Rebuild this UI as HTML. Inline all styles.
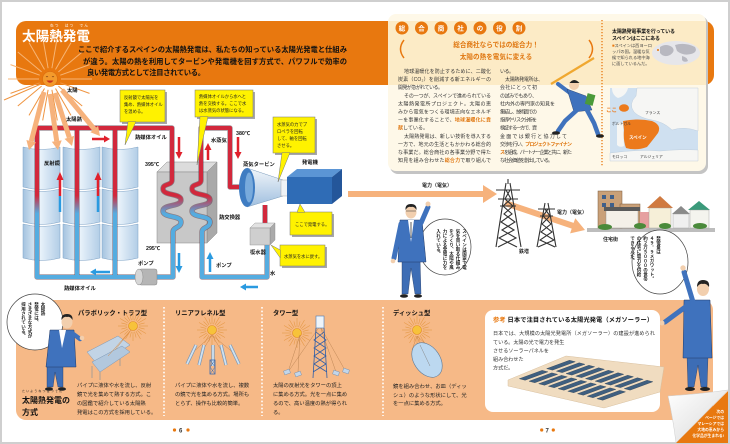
<!DOCTYPE html>
<html lang="ja"><head><meta charset="utf-8">
<style>
html,body{margin:0;padding:0;background:#fff;}
body{width:730px;height:444px;overflow:hidden;position:relative;}
svg{position:absolute;left:0;top:0;}
svg text{font-family:"Liberation Sans","Noto Sans CJK JP",sans-serif;}
.v{position:absolute;writing-mode:vertical-rl;font-family:"Liberation Sans","Noto Sans CJK JP",sans-serif;font-weight:bold;color:#222;white-space:nowrap;font-size:4.5px;line-height:6.5px;}
</style></head><body>
<svg width="730" height="444" viewBox="0 0 730 444" xmlns="http://www.w3.org/2000/svg">
<defs>
<linearGradient id="pg" gradientUnits="userSpaceOnUse" x1="0" y1="128" x2="0" y2="278">
<stop offset="0.45" stop-color="#d2283c"/><stop offset="0.57" stop-color="#55ace0"/>
</linearGradient>
<linearGradient id="mir" x1="0" y1="0" x2="1" y2="0">
<stop offset="0" stop-color="#a4c3df"/><stop offset="0.45" stop-color="#eaf3fb"/><stop offset="1" stop-color="#b2cde6"/>
</linearGradient>
<linearGradient id="cone" x1="0" y1="0" x2="0" y2="1">
<stop offset="0" stop-color="#f2f6fa"/><stop offset="1" stop-color="#9fbfdf"/>
</linearGradient>
<linearGradient id="curl" x1="0" y1="0" x2="1" y2="1">
<stop offset="0" stop-color="#ffffff"/><stop offset="1" stop-color="#d8d8d8"/>
</linearGradient>
<g id="sun">
<g stroke="#e59a48" stroke-width="0.6">
<line x1="6" y1="0" x2="15" y2="0"/><line x1="5.2" y1="3" x2="13" y2="7.5"/><line x1="3" y1="5.2" x2="7.5" y2="13"/><line x1="0" y1="6" x2="0" y2="15"/><line x1="-3" y1="5.2" x2="-7.5" y2="13"/><line x1="-5.2" y1="3" x2="-13" y2="7.5"/><line x1="-6" y1="0" x2="-15" y2="0"/><line x1="-5.2" y1="-3" x2="-13" y2="-7.5"/><line x1="-3" y1="-5.2" x2="-7.5" y2="-13"/><line x1="0" y1="-6" x2="0" y2="-15"/><line x1="3" y1="-5.2" x2="7.5" y2="-13"/><line x1="5.2" y1="-3" x2="13" y2="-7.5"/>
<line x1="5.8" y1="1.6" x2="11.6" y2="3.1"/><line x1="4.2" y1="4.2" x2="8.5" y2="8.5"/><line x1="1.6" y1="5.8" x2="3.1" y2="11.6"/><line x1="-1.6" y1="5.8" x2="-3.1" y2="11.6"/><line x1="-4.2" y1="4.2" x2="-8.5" y2="8.5"/><line x1="-5.8" y1="1.6" x2="-11.6" y2="3.1"/><line x1="-5.8" y1="-1.6" x2="-11.6" y2="-3.1"/><line x1="-4.2" y1="-4.2" x2="-8.5" y2="-8.5"/><line x1="-1.6" y1="-5.8" x2="-3.1" y2="-11.6"/><line x1="1.6" y1="-5.8" x2="3.1" y2="-11.6"/><line x1="4.2" y1="-4.2" x2="8.5" y2="-8.5"/><line x1="5.8" y1="-1.6" x2="11.6" y2="-3.1"/>
</g>
<circle r="4.5" fill="#f7c23a" stroke="#e08a20" stroke-width="0.6"/>
</g>
</defs>

<rect x="1" y="1" width="728" height="442" fill="#fff" stroke="#cfcfcf" stroke-width="2"/>

<!-- orange banners -->
<rect x="16" y="21" width="698" height="64" rx="10" fill="#e8780f"/>
<rect x="16" y="300" width="697" height="120" rx="10" fill="#f6b987"/>

<!-- sun rays -->
<g stroke="#f7b575" stroke-width="1">
<line x1="39" y1="79" x2="8" y2="79"/><line x1="39.7" y1="75.2" x2="10.5" y2="64.6"/><line x1="41.6" y1="71.9" x2="17.8" y2="52"/><line x1="44.5" y1="69.5" x2="29" y2="42.6"/><line x1="48.1" y1="68.2" x2="42.7" y2="37.6"/><line x1="51.9" y1="68.2" x2="57.3" y2="37.6"/><line x1="55.5" y1="69.5" x2="71" y2="42.6"/><line x1="58.4" y1="71.9" x2="82.2" y2="52"/><line x1="60.3" y1="75.2" x2="89.5" y2="64.6"/><line x1="61" y1="79" x2="92" y2="79"/>
</g>
<g stroke="#ef9440" stroke-width="1">
<line x1="60.3" y1="82.8" x2="89.5" y2="93.4"/><line x1="58.4" y1="86.1" x2="82.2" y2="106"/><line x1="55.5" y1="88.5" x2="71" y2="115.4"/><line x1="51.9" y1="89.8" x2="57.3" y2="120.4"/><line x1="48.1" y1="89.8" x2="42.7" y2="120.4"/><line x1="44.5" y1="88.5" x2="29" y2="115.4"/><line x1="41.6" y1="86.1" x2="17.8" y2="106"/><line x1="39.7" y1="82.8" x2="10.5" y2="93.4"/><line x1="41" y1="84" x2="4" y2="100"/>
</g>

<!-- title -->
<text x="22" y="41" font-size="13.6" font-weight="bold" fill="#fff" textLength="68">太陽熱発電</text>
<text x="50" y="26.5" font-size="3.6" fill="#fff" textLength="38">ねつ　はつ　でん</text>
<g font-size="7.3" font-weight="bold" fill="#111">
<text x="78" y="52" textLength="269">ここで紹介するスペインの太陽熱発電は、私たちの知っている太陽光発電と仕組み</text>
<text x="83" y="64" textLength="264">が違う。太陽の熱を利用してタービンや発電機を回す方式で、パワフルで効率の</text>
<text x="87" y="75" textLength="118">良い発電方式として注目されている。</text>
</g>

<!-- mirrors -->
<g fill="url(#mir)" stroke="#7fa3c6" stroke-width="0.5">
<path d="M23,147 Q41.5,152 60,147 L60,187 Q41.5,192 23,187 Z"/>
<path d="M23,189 Q41.5,194 60,189 L60,222 Q41.5,227 23,222 Z"/>
<path d="M23,224 Q41.5,229 60,224 L60,258 Q41.5,263 23,258 Z"/>
<path d="M63,147 Q81.5,152 100,147 L100,187 Q81.5,192 63,187 Z"/>
<path d="M63,189 Q81.5,194 100,189 L100,222 Q81.5,227 63,222 Z"/>
<path d="M63,224 Q81.5,229 100,224 L100,258 Q81.5,263 63,258 Z"/>
<path d="M102,147 Q120,152 138,147 L138,187 Q120,192 102,187 Z"/>
<path d="M102,189 Q120,194 138,189 L138,222 Q120,227 102,222 Z"/>
<path d="M102,224 Q120,229 138,224 L138,258 Q120,263 102,258 Z"/>
</g>

<!-- heat exchanger box -->
<polygon points="157,172 167,162 217,162 207,172" fill="#dcdcdc" stroke="#888" stroke-width="0.5"/>
<polygon points="207,172 217,162 217,233 207,243" fill="#a9a9a9" stroke="#888" stroke-width="0.5"/>
<rect x="157" y="172" width="50" height="71" fill="#c8c8c8" stroke="#888" stroke-width="0.5"/>

<!-- pipes -->
<g fill="none" stroke="#5a3a48" stroke-opacity="0.55" stroke-width="5.4" stroke-linejoin="round">
<path d="M135,277 H37 V128 H172 V180 C172,186 163,183 163,189 C163,196 181,193 181,200 C181,207 163,204 163,211 C163,218 181,215 181,222 C181,228 173,227 173,232 V277 H157"/>
<path d="M77,128 V277"/>
<path d="M115,128 V277"/>
<path d="M240,187 H230 V128 H201 V180 C201,186 192,183 192,189 C192,196 210,193 210,200 C210,207 192,204 192,211 C192,218 210,215 210,222 C210,228 202,227 202,232 V277 H267 V245"/>
<path d="M265,205 V224"/>
</g>
<g fill="none" stroke="url(#pg)" stroke-width="4" stroke-linejoin="round">
<path d="M135,277 H37 V128 H172 V180 C172,186 163,183 163,189 C163,196 181,193 181,200 C181,207 163,204 163,211 C163,218 181,215 181,222 C181,228 173,227 173,232 V277 H157"/>
<path d="M77,128 V277"/>
<path d="M115,128 V277"/>
<path d="M240,187 H230 V128 H201 V180 C201,186 192,183 192,189 C192,196 210,193 210,200 C210,207 192,204 192,211 C192,218 210,215 210,222 C210,228 202,227 202,232 V277 H267 V245"/>
</g>
<path d="M265,205 V224" stroke="#d2283c" stroke-width="4"/>

<!-- pump -->
<rect x="139" y="269" width="18" height="16" rx="2" fill="#b5b5b5" stroke="#888" stroke-width="0.5"/>
<ellipse cx="139" cy="277" rx="4" ry="8" fill="#d6d6d6" stroke="#888" stroke-width="0.5"/>

<!-- turbine -->
<path d="M247,168 L283,180 L283,196 L247,207 Z" fill="url(#cone)" stroke="#7a9abb" stroke-width="0.5"/>
<rect x="281" y="180" width="8" height="16" fill="#eef2f6" stroke="#999" stroke-width="0.4"/>
<ellipse cx="247" cy="187.5" rx="8" ry="19.5" fill="#3e7cc2"/>
<ellipse cx="249" cy="187.5" rx="4" ry="15" fill="#78aadc"/>

<!-- generator -->
<polygon points="287,177 297,169 342,169 332,177" fill="#5b95d5"/>
<polygon points="332,177 342,169 342,196 332,204" fill="#24569a"/>
<rect x="287" y="177" width="45" height="27" fill="#2f6cb6"/>

<!-- condenser -->
<polygon points="250,228 255,223 275,223 270,228" fill="#e2e2e2" stroke="#888" stroke-width="0.4"/>
<polygon points="270,228 275,223 275,240 270,245" fill="#aaa" stroke="#888" stroke-width="0.4"/>
<rect x="250" y="228" width="20" height="17" fill="#cfcfcf" stroke="#888" stroke-width="0.4"/>

<!-- sunlight beams -->
<g fill="#f6b27c" stroke="none">
<line x1="44" y1="92" x2="31.25" y2="141.3" stroke="#f6b27c" stroke-width="5"/>
<polygon points="36.1,142.5 29,150 26.4,140"/>
<line x1="50" y1="94" x2="56.7" y2="141.1" stroke="#f6b27c" stroke-width="5"/>
<polygon points="61.7,140.4 58,150 51.8,141.8"/>
<line x1="55" y1="93" x2="69.3" y2="137.4" stroke="#f6b27c" stroke-width="5"/>
<polygon points="74.1,135.9 72,146 64.5,138.9"/>
<line x1="62" y1="90" x2="94.3" y2="129.1" stroke="#f6b27c" stroke-width="5"/>
<polygon points="98.1,125.9 100,136 90.4,132.3"/>
</g>
<!-- sun face -->
<circle cx="50" cy="79" r="7.5" fill="#f39a2c" stroke="#d86a10" stroke-width="0.6"/>
<path d="M46,77 q1,-1 2,0 M52,77 q1,-1 2,0" stroke="#7a3a10" stroke-width="0.6" fill="none"/>
<path d="M46.5,80.5 Q50,85 53.5,80.5 Z" fill="#c8301c"/>

<!-- arrows red -->
<g stroke="#e0202c" stroke-width="2.5" fill="#e0202c">
<line x1="92" y1="139" x2="104" y2="139"/><polygon stroke="none" points="104,135.5 110,139 104,142.5"/>
<line x1="179" y1="137" x2="179" y2="152"/><polygon stroke="none" points="175.5,152 179,159 182.5,152"/>
<line x1="208" y1="160" x2="208" y2="150"/><polygon stroke="none" points="204.5,150 208,143 211.5,150"/>
<line x1="238" y1="137" x2="238" y2="152"/><polygon stroke="none" points="234.5,152 238,159 241.5,152"/>
<line x1="60" y1="196" x2="60" y2="180"/><polygon stroke="none" points="56.5,180 60,172 63.5,180"/>
<line x1="98" y1="196" x2="98" y2="180"/><polygon stroke="none" points="94.5,180 98,172 101.5,180"/>
</g>
<g stroke="#2a9ae0" stroke-width="2.5" fill="#2a9ae0">
<line x1="60" y1="212" x2="60" y2="196"/>
<line x1="98" y1="212" x2="98" y2="196"/>
<line x1="110" y1="272" x2="96" y2="272"/><polygon stroke="none" points="96,268.5 90,272 96,275.5"/>
<line x1="179" y1="253" x2="179" y2="266"/><polygon stroke="none" points="175.5,266 179,273 182.5,266"/>
<line x1="210" y1="272" x2="210" y2="259"/><polygon stroke="none" points="206.5,259 210,252 213.5,259"/>
<line x1="258" y1="287" x2="246" y2="287"/><polygon stroke="none" points="246,283.5 240,287 246,290.5"/>
</g>

<!-- callouts -->
<g stroke="#777" stroke-width="0.5">
<rect x="122" y="92" width="45" height="32" fill="#a8a8a8" stroke="none"/>
<rect x="120" y="90" width="45" height="32" fill="#fff200"/>
<polygon points="128,121.7 136,121.7 125,145" fill="#fff200"/>
<rect x="197" y="92" width="58" height="27" fill="#a8a8a8" stroke="none"/>
<rect x="195" y="90" width="58" height="27" fill="#fff200"/>
<polygon points="200,116.7 208,116.7 197,165" fill="#fff200"/>
<rect x="275" y="119" width="42" height="36" fill="#a8a8a8" stroke="none"/>
<rect x="273" y="117" width="42" height="36" fill="#fff200"/>
<polygon points="282,152.7 290,152.7 278,182" fill="#fff200"/>
<rect x="292" y="214" width="42" height="23" fill="#a8a8a8" stroke="none"/>
<rect x="290" y="212" width="42" height="23" fill="#fff200"/>
<polygon points="297,212.3 305,212.3 300,204" fill="#fff200"/>
<rect x="282" y="247" width="45" height="21" fill="#a8a8a8" stroke="none"/>
<rect x="280" y="245" width="45" height="21" fill="#fff200"/>
<polygon points="280.3,250 280.3,258 271,245" fill="#fff200"/>
</g>
<g font-size="4.3" fill="#222">
<text x="124" y="99">反射鏡で太陽光を</text><text x="124" y="106">集め、熱媒体オイル</text><text x="124" y="113">を温める。</text>
<text x="199" y="98">熱媒体オイルから水へと</text><text x="199" y="105">熱を交換する。ここで水</text><text x="199" y="112">は水蒸気の状態になる。</text>
<text x="277" y="126">水蒸気の力でプ</text><text x="277" y="133">ロペラを回転</text><text x="277" y="140">して、軸を回転</text><text x="277" y="147">させる。</text>
<text x="295" y="226">ここで発電する。</text>
<text x="284" y="258">水蒸気を水に戻す。</text>
</g>

<!-- diagram labels -->
<g font-size="5.3" font-weight="bold" fill="#111">
<text x="67" y="92">太陽</text>
<text x="66" y="121">太陽熱</text>
<text x="44" y="165">反射鏡</text>
<text x="135" y="139">熱媒体オイル</text>
<text x="145" y="166">395℃</text>
<text x="211" y="142">水蒸気</text>
<text x="236" y="135">380℃</text>
<text x="243" y="166">蒸気タービン</text>
<text x="302" y="164">発電機</text>
<text x="219" y="219">熱交換器</text>
<text x="146" y="250">295℃</text>
<text x="138" y="265">ポンプ</text>
<text x="216" y="267">ポンプ</text>
<text x="250" y="254">復水器</text>
<text x="270" y="275">水</text>
<text x="64" y="290">熱媒体オイル</text>
</g>

<!-- power arrows -->
<polygon points="348,191 483,191 483,185 497,194 483,203 483,197 348,197" fill="#f6b27c"/>
<polygon points="505.96,200.16 573.6,222.9 575.3,218.2 585,230 570.1,233.4 571.7,228.6 504.04,205.84" fill="#f6b27c"/>
<g font-size="5" font-weight="bold" fill="#222">
<text x="422" y="187">電力（電気）</text>
<text x="557" y="214">電力（電気）</text>
<text x="519" y="253">鉄塔</text>
<text x="603" y="241">住宅街</text>
</g>

<!-- towers -->
<g stroke="#333" stroke-width="1.1" fill="none">
<path d="M506,183 L496,247 M510,183 L521,247 M508,179 V184"/>
<path d="M496,190 H520 M498,199 H518 M500,206 H516"/>
<path d="M506,190 L511,199 L503,206 L512,214 L501,222 L514,230 L499,238 L517,247 M510,190 L505,199 L513,206 L504,214 L515,222 L502,230 L516,238 L498,247"/>
<path d="M545,203 L537,247 M548,203 L556,247"/>
<path d="M538,209 H555 M540,216 H553"/>
<path d="M545,209 L550,216 L542,224 L552,232 L540,240 L555,247 M548,209 L543,216 L551,224 L541,232 L554,240 L538,247"/>
</g>

<!-- houses -->
<rect x="587" y="228" width="128" height="4" fill="#bdbdbd"/>
<rect x="598" y="191" width="24" height="37" fill="#c9a078" stroke="#7a5a3a" stroke-width="0.5"/>
<rect x="620" y="204" width="20" height="24" fill="#c9a078" stroke="#7a5a3a" stroke-width="0.5"/>
<g fill="#3f5f8a"><rect x="602" y="195" width="4" height="4"/><rect x="610" y="195" width="4" height="4"/><rect x="602" y="203" width="4" height="4"/><rect x="610" y="203" width="4" height="4"/><rect x="624" y="209" width="4" height="3"/><rect x="631" y="209" width="4" height="3"/></g>
<rect x="606" y="210" width="32" height="18" fill="#f4f0e8" stroke="#888" stroke-width="0.4"/>
<rect x="604" y="207" width="36" height="4" fill="#5a5a5a"/>
<rect x="640" y="212" width="10" height="16" fill="#e6a0a0"/>
<polygon points="647,208 660,196 673,208" fill="#d07a40"/>
<rect x="649" y="208" width="22" height="20" fill="#f6efd8" stroke="#999" stroke-width="0.4"/>
<polygon points="672,214 681,206 690,214" fill="#8a8a8a"/>
<rect x="673" y="214" width="16" height="14" fill="#f0f0f0" stroke="#999" stroke-width="0.4"/>
<polygon points="688,210 699,201 710,210" fill="#3a9a7a"/>
<rect x="690" y="210" width="19" height="18" fill="#f4f4ee" stroke="#999" stroke-width="0.4"/>
<g fill="#4a8a3a"><ellipse cx="605" cy="227" rx="7" ry="3"/><ellipse cx="640" cy="226" rx="6" ry="3"/><ellipse cx="665" cy="226" rx="6" ry="3"/><ellipse cx="700" cy="226" rx="7" ry="3"/></g>

<!-- cream box -->
<rect x="390" y="16" width="318" height="158" rx="8" fill="#c4c4c4"/>
<rect x="388" y="14" width="318" height="157" rx="8" fill="#fef8e8"/>
<rect x="388" y="21" width="318" height="64" fill="#fcebc6"/>
<line x1="602" y1="20" x2="602" y2="166" stroke="#e8780f" stroke-width="1.3" stroke-dasharray="1.3 1.7"/>
<g fill="#e8780f">
<circle cx="402" cy="28" r="6.5"/><circle cx="421.5" cy="28" r="6.5"/><circle cx="441" cy="28" r="6.5"/><circle cx="460.5" cy="28" r="6.5"/><circle cx="480" cy="28" r="6.5"/><circle cx="499.5" cy="28" r="6.5"/><circle cx="519" cy="28" r="6.5"/>
</g>
<g font-size="6.5" font-weight="bold" fill="#fff" text-anchor="middle">
<text x="402" y="30.3">総</text><text x="421.5" y="30.3">合</text><text x="441" y="30.3">商</text><text x="460.5" y="30.3">社</text><text x="480" y="30.3">の</text><text x="499.5" y="30.3">役</text><text x="519" y="30.3">割</text>
</g>
<path d="M404,40 Q397,49 404,58" stroke="#e8780f" stroke-width="1.5" fill="none"/>
<path d="M589,40 Q596,49 589,58" stroke="#e8780f" stroke-width="1.5" fill="none"/>
<g font-size="6.6" font-weight="bold" fill="#e07812" text-anchor="middle">
<text x="496" y="47">総合商社ならではの総合力！</text>
<text x="496" y="59">太陽の熱を電気に変える</text>
</g>
<g font-size="5" fill="#333" lengthAdjust="spacingAndGlyphs">
<text x="404" y="73" textLength="87">地球温暖化を防止するために、二酸化</text>
<text x="398" y="81.1" textLength="93">炭素（CO₂）を削減する新エネルギーの</text>
<text x="398" y="89.2" textLength="45">開発が急がれている。</text>
<text x="404" y="97.3" textLength="87">その一つが、スペインで進められている</text>
<text x="398" y="105.4" textLength="93">太陽熱発電所プロジェクト。太陽の恵</text>
<text x="398" y="113.5" textLength="93">みから電気をつくる環境志向なエネルギ</text>
<text x="398" y="121.6" textLength="93">ーを事業化することで、<tspan fill="#e07812" font-weight="bold">地球温暖化に貢</tspan></text>
<text x="398" y="129.7" textLength="30"><tspan fill="#e07812" font-weight="bold">献</tspan>している。</text>
<text x="404" y="137.8" textLength="87">太陽熱発電は、新しい技術を導入する</text>
<text x="398" y="145.9" textLength="93">一方で、地元の生活ともかかわる総合的</text>
<text x="398" y="154" textLength="93">な事業だ。総合商社の各事業分野で得た</text>
<text x="398" y="162.1" textLength="93">知見を組み合わせた<tspan fill="#e07812" font-weight="bold">総合力</tspan>で取り組んで</text>
<text x="500" y="73" textLength="14">いる。</text>
<text x="505" y="81.1" textLength="38">太陽熱発電所は、</text>
<text x="500" y="89.2" textLength="37">会社にとって初</text>
<text x="500" y="97.3" textLength="37">の試みでもあり、</text>
<text x="500" y="105.4" textLength="55">社内外の専門家の知見を</text>
<text x="500" y="113.5" textLength="37">集結し、技術面での</text>
<text x="500" y="121.6" textLength="37">指導やリスク分析を</text>
<text x="500" y="129.7" textLength="37">検証する一方で、資</text>
<text x="500" y="137.8" textLength="67">金面では銀行と協力して</text>
<text x="500" y="145.9" textLength="72">交渉を行い、<tspan fill="#e07812" font-weight="bold">プロジェクトファイナン</tspan></text>
<text x="500" y="154" textLength="72"><tspan fill="#e07812" font-weight="bold">ス</tspan>を組成。パートナー企業と共に、新た</text>
<text x="500" y="162.1" textLength="53">な社会価値を創出している。</text>
</g>

<!-- businessman in box -->
<line x1="551" y1="84" x2="594" y2="58" stroke="#f0a830" stroke-width="2.2"/>
<path d="M558,84 L570,93" stroke="#3f72bd" stroke-width="4" stroke-linecap="round"/>
<path d="M567,89 L586,96 L592,110 L574,112 Z" fill="#3f72bd" stroke="#223a66" stroke-width="0.4"/>
<path d="M577,110 L565,121 L558,131" stroke="#3f72bd" stroke-width="4.5" fill="none" stroke-linecap="round"/>
<path d="M587,110 L594,123 L598,134" stroke="#3f72bd" stroke-width="4.5" fill="none" stroke-linecap="round"/>
<ellipse cx="556" cy="133" rx="4" ry="1.8" fill="#222"/>
<ellipse cx="600" cy="136" rx="4" ry="1.8" fill="#222"/>
<rect x="586" y="94" width="8" height="11" fill="#4a9a3a" transform="rotate(15 590 100)"/>
<circle cx="574" cy="85" r="5" fill="#f2cfae"/>
<path d="M569.5,83 Q574,77 579.5,83" fill="#222"/>

<!-- right section -->
<g font-size="5" font-weight="bold" fill="#111">
<text x="612" y="33" textLength="63">太陽熱発電事業を行っている</text>
<text x="612" y="40" textLength="48">スペインはここにある</text>
</g>
<g font-size="4.2" fill="#444">
<text x="612" y="47"><tspan fill="#e8780f">■</tspan>スペインは西ヨーロ</text>
<text x="612" y="53">ッパの国。温暖な気</text>
<text x="612" y="59">候で知られる地中海</text>
<text x="612" y="65">に面しているんだ。</text>
</g>
<ellipse cx="676" cy="53" rx="24" ry="12" fill="#e6e6ea"/>
<path d="M660,47 q6,-4 12,0 q4,4 -2,8 q-6,3 -10,-2 z M675,45 q10,-3 20,2 q3,5 -4,7 q-8,2 -14,-3 z M682,56 q5,1 6,5 q-4,2 -6,-1 z" fill="#b8b8c0"/>
<circle cx="658" cy="50" r="1" fill="#e8780f"/>
<rect x="610" y="88" width="88" height="73" fill="#cfe0f0"/>
<path d="M637,88 H698 V131 Q684,126 672,130 Q664,122 652,120 Q640,118 634,112 Q628,104 636,96 Z" fill="#f6f6f4" stroke="#b8c8d8" stroke-width="0.4"/>
<path d="M612,88 H628 Q626,96 618,98 Q612,95 612,88 Z" fill="#f6f6f4"/>
<path d="M610,153 Q640,149 660,151 Q680,149 698,150 V161 H610 Z" fill="#f6f6f4" stroke="#b8c8d8" stroke-width="0.4"/>
<path d="M617,124 Q620,121 623,123 L624,146 Q620,148 617,145 Z" fill="#f6f6f4"/>
<path d="M623,121 Q638,118 652,121 Q662,125 658,133 Q652,141 647,147 Q636,151 626,148 Q623,140 624,130 Z" fill="#ec7a1c"/>
<ellipse cx="624" cy="108" rx="5" ry="3.8" fill="#ec7a1c"/>
<text x="606" y="112" font-size="5.5" font-weight="bold" fill="#ec7a1c">ここ</text>
<g font-size="3.8" fill="#333">
<text x="645" y="114">フランス</text>
<text x="612" y="125">ポルトガル</text>
<text x="612" y="158">モロッコ</text>
<text x="640" y="158">アルジェリア</text>
</g>
<text x="629" y="139" font-size="4.5" font-weight="bold" fill="#fff">スペイン</text>

<!-- right page man left -->
<ellipse cx="445" cy="247" rx="26" ry="28" fill="#fff" stroke="#444" stroke-width="0.7"/>
<polygon points="402,258 420,258 421,294 415,294 411,268 408,294 402,294" fill="#3d6db5" stroke="#223a66" stroke-width="0.4"/>
<ellipse cx="404" cy="296" rx="4" ry="1.8" fill="#222"/>
<ellipse cx="418" cy="296" rx="4" ry="1.8" fill="#222"/>
<path d="M400,220 L422,220 L426,262 L398,262 Z" fill="#3f72bd" stroke="#223a66" stroke-width="0.5"/>
<polygon points="408,220 414,220 411,242" fill="#fff"/>
<line x1="411" y1="222" x2="411" y2="238" stroke="#333" stroke-width="0.8"/>
<path d="M421,223 L428,207" stroke="#3f72bd" stroke-width="5" stroke-linecap="round"/>
<circle cx="428" cy="204" r="2.5" fill="#f2cfae"/>
<path d="M401,224 L394,258" stroke="#3f72bd" stroke-width="5" stroke-linecap="round"/>
<circle cx="393" cy="261" r="2.3" fill="#f2cfae"/>
<ellipse cx="411" cy="212" rx="5.5" ry="6.5" fill="#f2cfae"/>
<path d="M405.5,210 Q405,204 411,204 Q417,204 416.5,210 Q414,206 411,207 Q408,206 405.5,210 Z" fill="#222"/>
<line x1="406" y1="211" x2="416" y2="211" stroke="#333" stroke-width="0.5"/>

<!-- right page man right -->
<ellipse cx="660" cy="262" rx="28" ry="32" fill="#fff" stroke="#444" stroke-width="0.7"/>
<polygon points="687,356 708,356 707,387 701,387 698,365 694,387 688,387" fill="#3d6db5" stroke="#223a66" stroke-width="0.4"/>
<ellipse cx="690" cy="389" rx="5" ry="2" fill="#222"/>
<ellipse cx="705" cy="389" rx="5" ry="2" fill="#222"/>
<path d="M684,300 L710,300 L712,358 L683,358 Z" fill="#3f72bd" stroke="#223a66" stroke-width="0.5"/>
<path d="M688,305 L665,322" stroke="#3f72bd" stroke-width="5" stroke-linecap="round"/>
<circle cx="662" cy="323" r="2.5" fill="#f2cfae"/>
<path d="M693,302 L684,272" stroke="#3f72bd" stroke-width="5" stroke-linecap="round"/>
<circle cx="683" cy="268" r="2.7" fill="#f2cfae"/>
<ellipse cx="703" cy="289" rx="6" ry="7" fill="#f2cfae"/>
<path d="M697,287 Q697,280 703,280 Q710,280 709,287 Q706,283 703,284 Q700,283 697,287 Z" fill="#222"/>

<!-- bottom-left man -->
<circle cx="35" cy="322" r="28" fill="#fff" stroke="#444" stroke-width="0.7"/>
<polygon points="47,365 63,365 63,387 58,387 55,372 53,387 47,387" fill="#3d6db5" stroke="#223a66" stroke-width="0.4"/>
<ellipse cx="49" cy="389" rx="4" ry="1.8" fill="#222"/>
<ellipse cx="62" cy="389" rx="4" ry="1.8" fill="#222"/>
<path d="M50,330 L74,330 L76,367 L46,367 Z" fill="#3f72bd" stroke="#223a66" stroke-width="0.5"/>
<polygon points="59,330 66,330 62,348" fill="#fff"/>
<path d="M72,333 L80,339" stroke="#3f72bd" stroke-width="4.5" stroke-linecap="round"/>
<circle cx="82" cy="338" r="2.3" fill="#f2cfae"/>
<ellipse cx="67" cy="322" rx="5.5" ry="6.5" fill="#f2cfae"/>
<path d="M61.5,320 Q61,314 67,314 Q73,314 72.5,320 Q70,316 67,317 Q64,316 61.5,320 Z" fill="#222"/>

<text x="22" y="392" font-size="3" fill="#222" textLength="40">たいようねつはつでん</text>
<g font-size="8" font-weight="bold" fill="#111">
<text x="22" y="403" textLength="48">太陽熱発電の</text>
<text x="22" y="415">方式</text>
</g>

<!-- bottom section headings -->
<g font-size="6.3" font-weight="bold" fill="#111">
<text x="78" y="315" textLength="69">パラボリック・トラフ型</text>
<text x="175" y="315">リニアフレネル型</text>
<text x="273" y="315">タワー型</text>
<text x="393" y="315">ディッシュ型</text>
</g>
<g stroke="#fff" stroke-width="1.6" stroke-dasharray="1.6 2">
<line x1="164" y1="307" x2="164" y2="416"/>
<line x1="262" y1="307" x2="262" y2="416"/>
<line x1="383" y1="307" x2="383" y2="416"/>
</g>
<g font-size="5.3" fill="#222">
<text x="77" y="387">パイプに液体や水を流し、反射</text>
<text x="77" y="396">鏡で光を集めて熱する方式。こ</text>
<text x="77" y="405">の図鑑で紹介している太陽熱</text>
<text x="77" y="414">発電はこの方式を採用している。</text>
<text x="175" y="387">パイプに液体や水を流し、複数</text>
<text x="175" y="396">の鏡で光を集める方式。場所も</text>
<text x="175" y="405">とらず、操作も比較的簡単。</text>
<text x="273" y="387">太陽の反射光をタワーの頂上</text>
<text x="273" y="396">に集める方式。光を一点に集め</text>
<text x="273" y="405">るので、高い温度の熱が得られ</text>
<text x="273" y="414">る。</text>
<text x="393" y="388">鏡を組み合わせ、お皿（ディッ</text>
<text x="393" y="397">シュ）のような形状にして、光</text>
<text x="393" y="405">を一点に集める方式。</text>
</g>

<!-- parabolic diagram -->
<use href="#sun" x="133" y="326"/>
<g stroke="#999" stroke-width="0.8"><line x1="92" y1="366" x2="92" y2="378"/><line x1="120" y1="352" x2="120" y2="366"/><line x1="100" y1="372" x2="100" y2="380"/></g>
<polygon points="87,352 118,336 130,345 98,365" fill="#c2d4e6" stroke="#7a96b4" stroke-width="0.5"/>
<polygon points="92,362 122,346 130,352 100,372" fill="#b2c8de" stroke="#7a96b4" stroke-width="0.5"/>
<g stroke="#d8883a" stroke-width="0.5"><line x1="131" y1="330" x2="115" y2="350"/><line x1="131" y1="330" x2="108" y2="356"/></g>
<!-- linear fresnel -->
<use href="#sun" x="212" y="330"/>
<g stroke="#c07a3a" stroke-width="0.4"><line x1="212" y1="335" x2="190" y2="355"/><line x1="212" y1="335" x2="200" y2="355"/><line x1="212" y1="335" x2="224" y2="355"/><line x1="212" y1="335" x2="236" y2="355"/></g>
<g stroke="#7a96b4" stroke-width="3.2" stroke-linecap="butt">
<line x1="187" y1="364" x2="196" y2="345"/><line x1="199" y1="365" x2="204" y2="345"/><line x1="213" y1="366" x2="213" y2="345"/><line x1="226" y1="365" x2="221" y2="345"/><line x1="239" y1="364" x2="230" y2="345"/>
</g>
<g stroke="#cfe2f2" stroke-width="1.8">
<line x1="187" y1="364" x2="196" y2="345"/><line x1="199" y1="365" x2="204" y2="345"/><line x1="213" y1="366" x2="213" y2="345"/><line x1="226" y1="365" x2="221" y2="345"/><line x1="239" y1="364" x2="230" y2="345"/>
</g>
<rect x="210" y="360" width="5" height="14" fill="none" stroke="#3a6ab0" stroke-width="0.8"/>
<path d="M210,360 L215,367 L210,374 M215,360 L210,367 L215,374" stroke="#3a6ab0" stroke-width="0.5" fill="none"/>
<!-- tower -->
<use href="#sun" x="297" y="333"/>
<g stroke="#b07a4a" stroke-width="0.4"><line x1="300" y1="335" x2="288" y2="372"/><line x1="300" y1="335" x2="298" y2="372"/><line x1="320" y1="326" x2="288" y2="372"/><line x1="320" y1="326" x2="336" y2="372"/><line x1="320" y1="326" x2="346" y2="372"/></g>
<rect x="316" y="316" width="8" height="12" fill="#eef4fa" stroke="#4a7ab8" stroke-width="0.6"/>
<path d="M316,328 L313,378 M324,328 L327,378 M316,332 L326,340 L314,348 L326,356 L314,364 L327,372 M324,332 L314,340 L326,348 L314,356 L326,364 L313,372" stroke="#2f5ea8" stroke-width="0.8" fill="none"/>
<g fill="#c2d6ea" stroke="#6a8aae" stroke-width="0.4"><rect x="284" y="370" width="6" height="4" transform="rotate(-20 287 372)"/><rect x="295" y="372" width="6" height="4" transform="rotate(-20 298 374)"/><rect x="333" y="371" width="6" height="4" transform="rotate(20 336 373)"/><rect x="343" y="369" width="6" height="4" transform="rotate(20 346 371)"/></g>
<!-- dish -->
<use href="#sun" x="417" y="330"/>
<g stroke="#c07a3a" stroke-width="0.4"><line x1="417" y1="336" x2="412" y2="350"/><line x1="417" y1="336" x2="428" y2="368"/><line x1="417" y1="336" x2="438" y2="355"/></g>
<ellipse cx="427" cy="360" rx="13" ry="19" fill="#bcd8f0" stroke="#5a7a9a" stroke-width="0.6" transform="rotate(-35 427 360)"/>
<line x1="420" y1="345" x2="430" y2="366" stroke="#888" stroke-width="0.5"/>

<!-- 参考 box -->
<rect x="485" y="310" width="175" height="102" rx="8" fill="#fff"/>
<text x="493" y="322" font-size="6.2" font-weight="bold" fill="#111" textLength="160"><tspan fill="#e8780f">参考</tspan> 日本で注目されている太陽光発電（メガソーラー）</text>
<g font-size="5.1" fill="#333">
<text x="493" y="335" textLength="162">日本では、大規模の太陽光発電所（メガソーラー）の建設が進められ</text>
<text x="493" y="344">ている。太陽の光で電力を発生</text>
<text x="493" y="352.5">させるソーラーパネルを</text>
<text x="493" y="361">組み合わせた</text>
<text x="493" y="369.5">方式だ。</text>
</g>
<polygon points="508,380 566,356 664,367 660,392 604,408 508,386" fill="#f0dcc0" stroke="#d8c0a0" stroke-width="0.5"/>
<g transform="matrix(0.57,-0.21,0.97,0.25,512,379)" fill="#3f5f80" stroke="#24384e" stroke-width="0.4">
<rect x="6" y="4" width="40" height="6"/><rect x="54" y="4" width="40" height="6"/>
<rect x="6" y="14" width="40" height="6"/><rect x="54" y="14" width="40" height="6"/>
<rect x="6" y="24" width="40" height="6"/><rect x="54" y="24" width="40" height="6"/>
<rect x="6" y="34" width="40" height="6"/><rect x="54" y="34" width="40" height="6"/>
<rect x="6" y="44" width="40" height="6"/><rect x="54" y="44" width="40" height="6"/>
<rect x="6" y="54" width="40" height="6"/><rect x="54" y="54" width="40" height="6"/>
<rect x="6" y="64" width="40" height="6"/><rect x="54" y="64" width="40" height="6"/>
<rect x="6" y="74" width="40" height="6"/><rect x="54" y="74" width="40" height="6"/>
<rect x="6" y="84" width="40" height="6"/><rect x="54" y="84" width="40" height="6"/>
</g>

<!-- page numbers -->
<circle cx="174.5" cy="430" r="1.6" fill="#e8780f"/><text x="179" y="432.5" font-size="6" font-weight="bold" fill="#333">6</text><circle cx="188" cy="430" r="1.6" fill="#e8780f"/>
<circle cx="541.7" cy="430" r="1.6" fill="#e8780f"/><text x="545.5" y="432.5" font-size="6" font-weight="bold" fill="#333">7</text><circle cx="553.3" cy="430" r="1.6" fill="#e8780f"/>

<!-- page curl -->
<path d="M668,396 Q700,394 728,390 L676,443 Q673,418 668,396 Z" fill="url(#curl)" stroke="#cfcfcf" stroke-width="0.5"/>
<polygon points="728,391 728,443 676,443" fill="#e8780f"/>
<g font-size="3.8" font-weight="bold" fill="#fff" text-anchor="end">
<text x="724" y="413">次の</text>
<text x="724" y="419">ページでは</text>
<text x="724" y="425">マレーシアでは</text>
<text x="724" y="431">大地の恵みから</text>
<text x="724" y="437">化学品が生まれる!</text>
</g>
</svg>

<div class="v" style="left:20px;top:302px;height:45px;">太陽熱<br>発電には、<br>さまざまな方式が<br>採用されている。</div>
<div class="v" style="left:435px;top:229px;height:40px;">スペインは国家で電<br>気を買い取る仕組み<br>をつくり、太陽や風<br>力による発電に力を<br>入れている。</div>
<div class="v" style="left:629px;top:236px;height:44px;">発電量は<br>４９．９メガワット。<br>約２万５０００の世帯<br>の住宅に電力を供給<br>できるんだ。</div>
</body></html>
